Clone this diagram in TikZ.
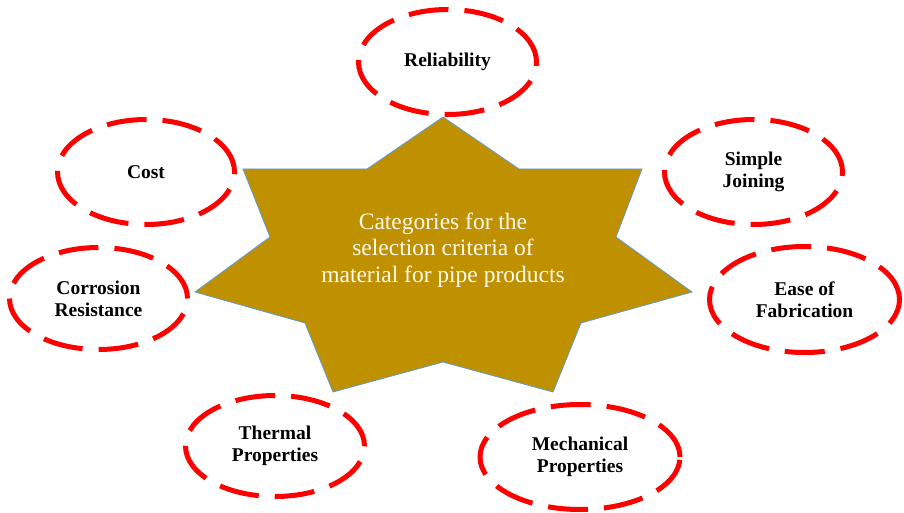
\documentclass[tikz,border=0pt]{standalone}
\usepackage{fontspec}
\setmainfont{Liberation Serif}
\usepackage{xcolor}
\usetikzlibrary{shapes.geometric}
\definecolor{stargold}{RGB}{191,144,0}
\definecolor{starrim}{RGB}{91,155,213}
\definecolor{cream}{RGB}{255,250,235}

\begin{document}
\begin{tikzpicture}[x=1pt,y=-1pt,
  crit/.style={ellipse,draw=red,line width=5pt,dash pattern=on 40pt off 16pt,inner sep=0pt,align=center,font=\fontsize{19.5}{22}\selectfont\bfseries}]
\useasboundingbox (0,0) rectangle (904,513);
% star in the middle
\filldraw[fill=stargold,draw=starrim,line width=0.8pt](443,117)--(519,169)--(642,169)--(616,237)--(692,292)--(581,323)--(553,392)--(443,362)--(333,392)--(305,323)--(195,292)--(270,237)--(243,169)--(367,169)--cycle;
\node (core) at (443,250) [text=cream,align=center,font=\fontsize{23.5}{26.7}\selectfont]{Categories for the\\selection criteria of\\material for pipe products};
% criteria
\node (reli) at (447.5,62) [crit,minimum width=178pt,minimum height=105pt]{Reliability};
\node (cost) at (146,172) [crit,minimum width=177pt,minimum height=105pt]{Cost};
\node (join) at (753.5,172) [crit,minimum width=178pt,minimum height=105pt]{Simple\\Joining};
\node (corr) at (98.5,298.5) [crit,minimum width=178pt,minimum height=102pt]{Corrosion\\Resistance};
\node (fabr) at (804.5,299.5) [crit,minimum width=190pt,minimum height=106pt]{Ease of\\Fabrication};
\node (ther) at (275,446) [crit,minimum width=179pt,minimum height=101pt]{Thermal\\Properties};
\node (mech) at (580,457) [crit,minimum width=200pt,minimum height=105pt]{Mechanical\\Properties};
\end{tikzpicture}
\end{document}
